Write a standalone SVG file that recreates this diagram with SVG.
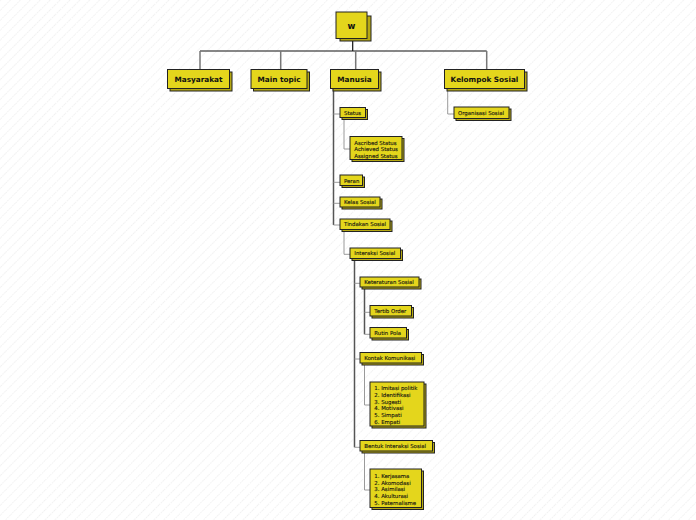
<svg xmlns="http://www.w3.org/2000/svg" width="696" height="520" viewBox="0 0 696 520">
<defs>
<pattern id="hatch" width="7" height="7" patternUnits="userSpaceOnUse" patternTransform="rotate(45)">
<line x1="0" y1="0" x2="0" y2="7" stroke="#e2e2e2" stroke-width="1" stroke-dasharray="1.5 1"/>
</pattern>
</defs>
<style>
.box{fill:#e4d61c;stroke:#222;stroke-width:1}
.sh{fill:#b5a813;stroke:#222;stroke-width:1}
.t1{font-family:"DejaVu Sans",Verdana,sans-serif;font-weight:bold;font-size:7.3px;fill:#111;text-anchor:middle}
.t0{font-family:"DejaVu Sans",Verdana,sans-serif;font-weight:bold;font-size:8.5px;fill:#111;text-anchor:middle}
.t2{font-family:"DejaVu Sans",Verdana,sans-serif;font-size:5.4px;fill:#111;stroke:#111;stroke-width:0.12}
.main{fill:none;stroke:#111;stroke-width:1.2}
.stem{fill:none;stroke:#777;stroke-width:1.5}
.dark{fill:none;stroke:#555;stroke-width:1.5}
.br{fill:none;stroke:#9a9a9a;stroke-width:1}
</style>
<rect width="696" height="520" fill="#ffffff"/>
<rect width="696" height="520" fill="url(#hatch)"/>

<g id="connectors">
<path class="main" d="M352.7 40V51M200 51H486.7"/>
<path class="stem" d="M200 51V69.5M280.7 51V69.5M355.7 51V69.5M486.7 51V69.5"/>
<path class="dark" d="M333.5 88.5V225"/>
<path class="br" d="M333.5 114H340M333.5 182.3H340M333.5 203.3H340M333.5 225H340"/>
<path class="br" d="M344 118V149H350"/>
<path class="br" d="M344 230V254.3H350"/>
<path class="dark" d="M354.5 259V447.3"/>
<path class="br" d="M354.5 283.3H360M354.5 359H360M354.5 447.3H360"/>
<path class="dark" d="M364.5 287.5V334.3"/>
<path class="br" d="M364.5 312.3H370M364.5 334.3H370"/>
<path class="br" d="M364.5 363.5V405H370"/>
<path class="br" d="M364.5 451.5V490H370"/>
<path class="br" d="M447.7 89V114H454"/>
</g>

<g id="root">
<rect class="sh" x="340" y="16" width="31" height="25"/>
<rect class="box" x="336" y="12" width="31" height="26.5"/>
<text class="t0" x="351.5" y="28.5">w</text>
</g>

<g id="masyarakat">
<rect class="sh" x="170" y="72" width="62" height="19"/>
<rect class="box" x="167.5" y="69.5" width="62" height="19"/>
<text class="t1" x="198.5" y="81.5">Masyarakat</text>
</g>
<g id="main-topic">
<rect class="sh" x="253.5" y="72" width="56" height="19"/>
<rect class="box" x="251" y="69.5" width="56" height="19"/>
<text class="t1" x="279" y="81.5">Main topic</text>
</g>
<g id="manusia">
<rect class="sh" x="333" y="72" width="48" height="19"/>
<rect class="box" x="330.5" y="69.5" width="48" height="19"/>
<text class="t1" x="354.5" y="81.5">Manusia</text>
</g>
<g id="kelompok-sosial">
<rect class="sh" x="447" y="72" width="80" height="19"/>
<rect class="box" x="444.5" y="69.5" width="80" height="19"/>
<text class="t1" x="484.5" y="81.5">Kelompok Sosial</text>
</g>

<g id="organisasi-sosial">
<rect class="sh" x="456" y="109" width="55" height="11.5"/>
<rect class="box" x="454" y="107" width="55" height="11.5"/>
<text class="t2" x="458" y="114.8">Organisasi Sosial</text>
</g>

<g id="status">
<rect class="sh" x="342" y="109.5" width="25.5" height="10"/>
<rect class="box" x="340" y="107.5" width="25.5" height="10"/>
<text class="t2" x="344" y="114.5">Status</text>
</g>
<g id="status-list">
<rect class="sh" x="352" y="138.5" width="52" height="23"/>
<rect class="box" x="350" y="136.5" width="52" height="23"/>
<text class="t2" x="354.3" y="145">Ascribed Status</text>
<text class="t2" x="354.3" y="151">Achieved Status</text>
<text class="t2" x="354.3" y="157.5">Assigned Status</text>
</g>
<g id="peran">
<rect class="sh" x="342" y="177" width="22.5" height="10.5"/>
<rect class="box" x="340" y="175" width="22.5" height="10.5"/>
<text class="t2" x="344" y="182.5">Peran</text>
</g>
<g id="kelas-sosial">
<rect class="sh" x="342" y="199" width="40" height="10"/>
<rect class="box" x="340" y="197" width="40" height="10"/>
<text class="t2" x="344" y="204">Kelas Sosial</text>
</g>
<g id="tindakan-sosial">
<rect class="sh" x="342" y="221" width="50" height="10.5"/>
<rect class="box" x="340" y="219" width="50" height="10.5"/>
<text class="t2" x="344" y="226.3">Tindakan Sosial</text>
</g>
<g id="interaksi-sosial">
<rect class="sh" x="352" y="250" width="50.5" height="10.5"/>
<rect class="box" x="350" y="248" width="50.5" height="10.5"/>
<text class="t2" x="354.3" y="255.3">Interaksi Sosial</text>
</g>
<g id="keteraturan-sosial">
<rect class="sh" x="362" y="279" width="59" height="10"/>
<rect class="box" x="360" y="277" width="59" height="10"/>
<text class="t2" x="364.3" y="284.2">Keteraturan Sosial</text>
</g>
<g id="tertib-order">
<rect class="sh" x="372" y="307.5" width="41.5" height="10.5"/>
<rect class="box" x="370" y="305.5" width="41.5" height="10.5"/>
<text class="t2" x="374.3" y="313">Tertib Order</text>
</g>
<g id="rutin-pola">
<rect class="sh" x="372" y="329.5" width="36.5" height="10.5"/>
<rect class="box" x="370" y="327.5" width="36.5" height="10.5"/>
<text class="t2" x="374.3" y="335">Rutin Pola</text>
</g>
<g id="kontak-komunikasi">
<rect class="sh" x="362" y="354.5" width="61.5" height="10.5"/>
<rect class="box" x="360" y="352.5" width="61.5" height="10.5"/>
<text class="t2" x="364.3" y="360">Kontak Komunikasi</text>
</g>
<g id="kontak-list">
<rect class="sh" x="372" y="384" width="54" height="44"/>
<rect class="box" x="370" y="382" width="54" height="44"/>
<text class="t2" x="374.3" y="389.6">1. Imitasi politik</text>
<text class="t2" x="374.3" y="396.6">2. Identifikasi</text>
<text class="t2" x="374.3" y="403.5">3. Sugesti</text>
<text class="t2" x="374.3" y="410.3">4. Motivasi</text>
<text class="t2" x="374.3" y="417">5. Simpati</text>
<text class="t2" x="374.3" y="423.8">6. Empati</text>
</g>
<g id="bentuk-interaksi-sosial">
<rect class="sh" x="362" y="442.5" width="72.5" height="10.5"/>
<rect class="box" x="360" y="440.5" width="72.5" height="10.5"/>
<text class="t2" x="364.3" y="448">Bentuk Interaksi Sosial</text>
</g>
<g id="bentuk-list">
<rect class="sh" x="372" y="471" width="51.5" height="38.5"/>
<rect class="box" x="370" y="469" width="51.5" height="38.5"/>
<text class="t2" x="374.3" y="477.8">1. Kerjasama</text>
<text class="t2" x="374.3" y="484.5">2. Akomodasi</text>
<text class="t2" x="374.3" y="491">3. Asimilasi</text>
<text class="t2" x="374.3" y="497.8">4. Akulturasi</text>
<text class="t2" x="374.3" y="504.5">5. Paternalisme</text>
</g>
</svg>
